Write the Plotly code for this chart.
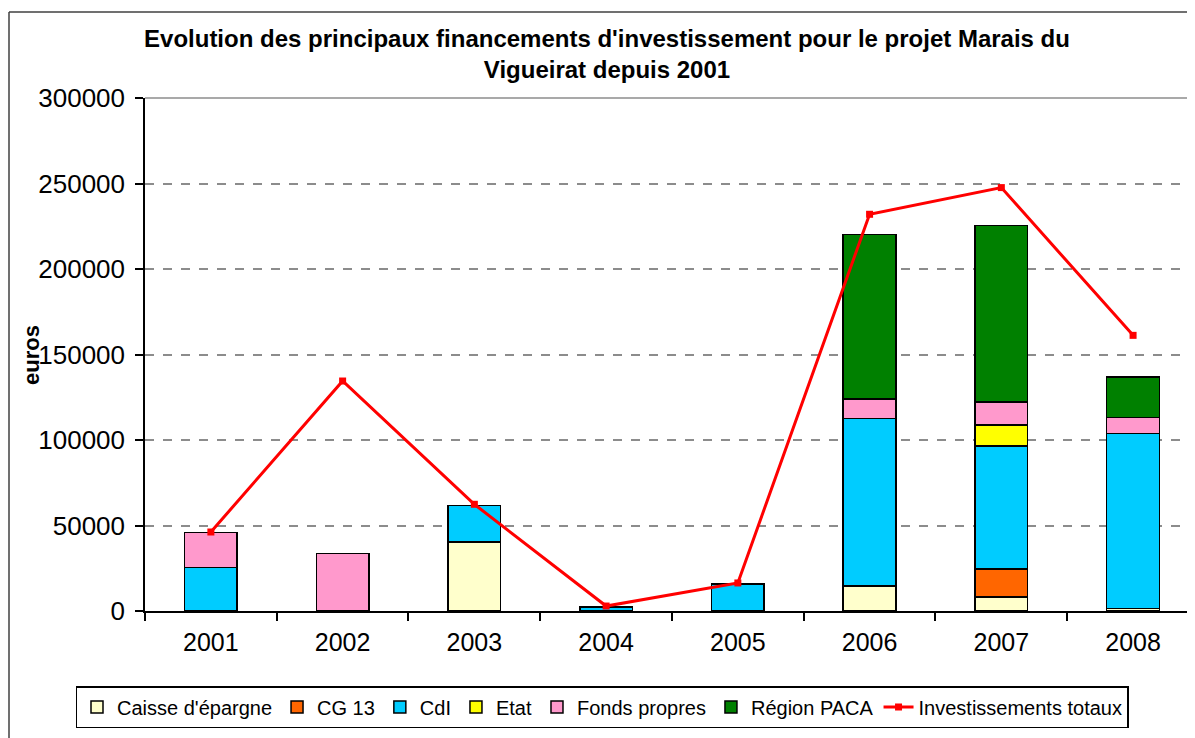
import plotly.graph_objects as go

years = ["2001", "2002", "2003", "2004", "2005", "2006", "2007", "2008"]
caisse = [None, None, 40400, None, None, 14600, 8200, 1500]
cg13 = [None, None, None, None, None, None, 16400, None]
cdl = [25400, None, 21400, 2300, 15800, 97900, 71900, 102200]
etat = [None, None, None, None, None, None, 12300, None]
fonds = [20500, 33600, None, None, None, 11500, 13400, 9600]
paca = [None, None, None, None, None, 96300, 103200, 23400]
total = [46200, 134500, 62400, 2900, 16400, 232000, 247600, 161200]

y_ticks = [0, 50000, 100000, 150000, 200000, 250000, 300000]

series = [
    ("Caisse d'épargne", caisse, "#FFFFCC"),
    ("CG 13", cg13, "#FF6600"),
    ("CdI", cdl, "#00CCFF"),
    ("Etat", etat, "#FFFF00"),
    ("Fonds propres", fonds, "#FF99CC"),
    ("Région PACA", paca, "#008000"),
]

fig = go.Figure()
for name, vals, col in series:
    fig.add_trace(go.Bar(
        x=years, y=vals, name=name,
        marker=dict(color=col, line=dict(color="#000000", width=1.5)),
    ))

fig.add_trace(go.Scatter(
    x=years, y=total, name="Investissements totaux", mode="lines+markers",
    line=dict(color="#FF0000", width=3),
    marker=dict(symbol="square", size=7, color="#FF0000"),
))

FONT = "Liberation Sans, Arial, sans-serif"
OFF = 8  # page body margin
W, H = 1195 - OFF, 738 - OFF
L, T = 145 - OFF, 98 - OFF
B = H - (611 - OFF)
pw = W - L
ph = H - T - B

def px(x):
    return (x - OFF - L) / pw

def py(y):
    return (H - B - (y - OFF)) / ph

fig.update_layout(
    width=W, height=H,
    margin=dict(l=L, r=0, t=T, b=B, autoexpand=False),
    barmode="stack", bargap=0.6,
    paper_bgcolor="white", plot_bgcolor="white",
    font=dict(family=FONT, size=24, color="#000000"),
    title=dict(
        text="<b>Evolution des principaux financements d'investissement pour le projet Marais du<br>Vigueirat depuis 2001</b>",
        x=(607 - OFF) / W, xanchor="center", y=1 - (47 - OFF) / H, yanchor="middle",
        font=dict(size=24, family=FONT),
    ),
    xaxis=dict(
        type="category", range=[-0.5, 7.47], automargin=False,
        showline=True, linecolor="#000000", linewidth=1.5,
        ticks="outside", tickson="boundaries", ticklen=8, tickcolor="#000000", tickwidth=1.5,
        showgrid=False, tickfont=dict(size=25), ticklabelstandoff=8,
    ),
    yaxis=dict(
        range=[0, 300000], tickvals=y_ticks, ticktext=[str(v) for v in y_ticks],
        automargin=False,
        showline=True, linecolor="#000000", linewidth=1.5,
        ticks="outside", ticklen=8, tickcolor="#000000", tickwidth=1.5,
        showgrid=True, gridcolor="#8c8c8c", gridwidth=1.5, griddash="dash",
        zeroline=False, tickfont=dict(size=26), ticklabelstandoff=5,
    ),
    showlegend=True,
    legend=dict(
        orientation="h", x=px(602), xanchor="center", y=py(707), yanchor="middle",
        bordercolor="#000000", borderwidth=1.5, traceorder="normal",
        font=dict(size=20), itemwidth=30, tracegroupgap=0,
    ),
    annotations=[dict(
        text="<b>euros</b>", textangle=-90, xref="paper", yref="paper",
        x=px(31), y=py(355), xanchor="center", yanchor="middle",
        showarrow=False, font=dict(size=22),
    )],
    shapes=[
        dict(type="line", xref="paper", yref="paper", x0=0, x1=1, y0=1, y1=1,
             line=dict(color="#8c8c8c", width=1.5)),
        dict(type="line", xref="paper", yref="paper", x0=px(9), x1=px(9), y0=py(12), y1=py(745),
             line=dict(color="#404040", width=1.5)),
        dict(type="line", xref="paper", yref="paper", x0=px(9), x1=px(1200), y0=py(12), y1=py(12),
             line=dict(color="#404040", width=1.5)),
    ],
)

fig.write_html("out.html")
